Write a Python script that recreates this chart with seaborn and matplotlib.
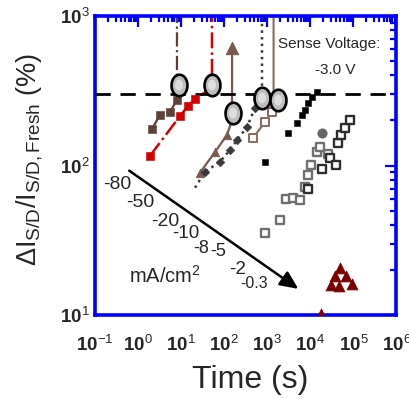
import numpy as np
import pandas as pd
import matplotlib
matplotlib.use("Agg")
import matplotlib.pyplot as plt
from matplotlib.ticker import LogLocator, NullFormatter, FixedLocator, FixedFormatter
import seaborn as sns

sns.set_style("white")
plt.rcParams['font.family'] = ['Liberation Sans', 'DejaVu Sans']
plt.rcParams['mathtext.fontset'] = 'custom'
plt.rcParams['mathtext.rm'] = 'Liberation Sans'
plt.rcParams['mathtext.bf'] = 'Liberation Sans:bold'
plt.rcParams['mathtext.it'] = 'Liberation Sans'

# ---------------- data ----------------
# stress current densities (mA/cm^2)
labels = ["-80", "-50", "-20", "-10", "-8", "-5", "-2", "-0.3"]

t_80 = [2.1, 3.2, 5.5, 8.0]
v_80 = [175, 218, 228, 274]
fail_t_80 = 8.0

t_50 = [1.89, 9.4, 14.4, 21]
v_50 = [116, 214, 250, 279]
fail_t_50 = 52

t_20 = [27, 61, 116]
v_20 = [89, 123, 160]
fail_t_20 = 152
fail_v_20 = 201
arrow_v_20 = 611

start_t_10 = 21
start_v_10 = 71
t_10 = [36, 80, 136, 198, 338, 519]
v_10 = [91, 106, 127, 148, 181, 243]
fail_t_10 = 754
fail_v_10 = 283

t_8 = [466, 885, 1288]
v_8 = [153, 195, 228]
fail_t_8 = 1400
fail_v_8 = 262

t_5 = [885, 3030, 4900, 6400, 7500, 8800, 10900, 14300]
v_5 = [106, 165, 192, 218, 235, 262, 287, 312]

t_2 = [885, 1972, 2720, 3960, 5750, 7510, 8820, 10350, 14270, 16750, 25700]
v_2 = [35.3, 43.1, 59.7, 60.7, 58.8, 71.8, 86.3, 100.7, 123, 133, 119]
t_2f = [18650]
v_2f = [165]

t_2b = [8820, 18650, 28600, 39400, 43900, 52000, 63800, 83400]
v_2b = [69.7, 94.8, 112, 100.7, 141.6, 160, 178, 201]

t_03 = [48800, 37300, 67300, 30100, 92700, 46200, 17650]
v_03 = [20.6, 18.2, 18.2, 15.9, 16.1, 15.6, 10.2]

# failure points (ellipses)
fail_t = [8.9, 52, 160, 754, 1775]
fail_v = [345, 345, 224, 283, 274]

sense_level = 300
xmin, xmax = 1e-1, 1e6
ymin, ymax = 10, 1000

# ---------------- figure ----------------
fig = plt.figure(figsize=(4.10, 3.99), dpi=100)
ax = fig.add_axes([95/410, 1-315/399, 301.5/410, 299/399])
ax.set_xscale('log')
ax.set_yscale('log')
ax.set_xlim(xmin, xmax)
ax.set_ylim(ymin, ymax)

def line(x, y, **kw):
    sns.lineplot(x=x, y=y, ax=ax, sort=False, estimator=None, **kw)

def pts(x, y, **kw):
    sns.scatterplot(x=x, y=y, ax=ax, **kw)

brown1 = '#5e4037'
red = '#d40000'
brown2 = '#7a5a4f'
dgray = '#3a3a3a'
brown3 = '#8a6a5e'

# -80
line(t_80 + [fail_t_80], v_80 + [ymax * 1.2], color=brown1, lw=1.6, ls='-.')
pts(t_80, v_80, color=brown1, marker='s', s=28, edgecolor=brown1, zorder=4)
# -50
line(t_50 + [fail_t_50, fail_t_50], v_50 + [330, ymax * 1.2], color=red, lw=1.8, ls='-.')
pts(t_50, v_50, color=red, marker='s', s=28, edgecolor=red, zorder=4)
# -20
line(t_20 + [fail_t_20, fail_t_20], v_20 + [fail_v_20, arrow_v_20], color=brown2, lw=1.6, ls='-')
pts(t_20, v_20, color=brown2, marker='^', s=38, edgecolor=brown2, zorder=4)
pts([fail_t_20], [arrow_v_20], color=brown2, marker='^', s=80, edgecolor=brown2, zorder=4)
# -10
line([start_t_10] + t_10 + [fail_t_10, fail_t_10], [start_v_10] + v_10 + [fail_v_10, ymax * 1.2],
     color=dgray, lw=1.8, ls=':')
pts(t_10, v_10, color=dgray, marker='D', s=20, edgecolor=dgray, zorder=4)
# -8
line(t_8 + [fail_t_8, fail_t_8], v_8 + [fail_v_8, ymax * 1.2], color=brown3, lw=1.5, ls='-')
pts(t_8, v_8, facecolor='white', marker='s', s=26, edgecolor=brown3, linewidth=1.4, zorder=4)
# -5
pts(t_5, v_5, color='black', marker='s', s=24, edgecolor='black', zorder=4)
# -2
pts(t_2, v_2, facecolor='white', marker='s', s=30, edgecolor='#707070', linewidth=1.7, zorder=4)
pts(t_2f, v_2f, color='#666666', marker='o', s=45, edgecolor='#666666', zorder=4)
pts(t_2b, v_2b, facecolor='white', marker='s', s=34, edgecolor='#2e2e2e', linewidth=1.7, zorder=4)
# -0.3
pts(t_03, v_03, color='#7a0000', marker='^', s=60, edgecolor='#7a0000', zorder=4)

# failure ellipses
th = np.linspace(0, 2*np.pi, 80)
ell = np.column_stack([0.74*np.cos(th), np.sin(th)])
pts(fail_t, fail_v, marker=ell, s=240, color='#bdbdbd', edgecolor='black', linewidth=1.9, zorder=6)
pts(fail_t, fail_v, marker=ell, s=60, color='#dedede', edgecolor='none', linewidth=0, zorder=7)

# sense-voltage criterion
ax.axhline(sense_level, color='black', lw=2, ls=(0, (5.5, 3.5)), zorder=3)

# arrow
ax.annotate('', xy=(0.682, 0.082), xytext=(0.106, 0.488), xycoords='axes fraction',
            arrowprops=dict(arrowstyle='-|>,head_length=1.1,head_width=0.5', color='black', lw=1.8))

# text labels
lab_pos = [(0.073, 0.435, 14), (0.149, 0.375, 14), (0.232, 0.314, 14), (0.302, 0.271, 13.5),
           (0.352, 0.224, 13), (0.408, 0.211, 13), (0.474, 0.151, 13.5), (0.527, 0.104, 11.5)]
for lab, (fx, fy, fs) in zip(labels, lab_pos):
    ax.text(fx, fy, lab, transform=ax.transAxes, ha='center', va='center', fontsize=fs, zorder=8)
ax.text(0.232, 0.130, 'mA/cm$^{2}$', transform=ax.transAxes, ha='center', va='center', fontsize=14.5)
ax.text(0.776, 0.906, 'Sense Voltage:', transform=ax.transAxes, ha='center', va='center', fontsize=11)
ax.text(0.796, 0.819, '-3.0 V', transform=ax.transAxes, ha='center', va='center', fontsize=11)

# axes styling
for sp in ax.spines.values():
    sp.set_color('#0000ff')
    sp.set_linewidth(2.6)
ax.xaxis.set_major_locator(FixedLocator([10.0**k for k in range(-1, 7)]))
ax.xaxis.set_major_formatter(FixedFormatter([r'$\mathbf{10}^{%d}$' % k for k in range(-1, 7)]))
ax.yaxis.set_major_locator(FixedLocator([10.0**k for k in range(1, 4)]))
ax.yaxis.set_major_formatter(FixedFormatter([r'$\mathbf{10}^{%d}$' % k for k in range(1, 4)]))
ax.xaxis.set_minor_locator(LogLocator(base=10, subs=np.arange(2, 10), numticks=100))
ax.yaxis.set_minor_locator(LogLocator(base=10, subs=np.arange(2, 10), numticks=100))
ax.xaxis.set_minor_formatter(NullFormatter())
ax.yaxis.set_minor_formatter(NullFormatter())
ax.tick_params(which='both', direction='in', top=True, right=True, color='#0000ff', width=1.6)
ax.tick_params(which='major', length=8, labelsize=13.5)
ax.tick_params(which='minor', length=4)
ax.tick_params(axis='x', which='major', pad=14)
ax.tick_params(axis='y', which='major', pad=4)
ax.set_xlabel('')
ax.set_ylabel('')

fig.text(0.61, 0.047, 'Time (s)', ha='center', va='center', fontsize=23)
fig.text(0.073, 0.60, r'$\Delta\mathrm{I}_{\mathrm{S/D}}/\mathrm{I}_{\mathrm{S/D,Fresh}}$ (%)',
         rotation=90, ha='center', va='center', fontsize=19.5)

fig.savefig('out.png', dpi=100)
